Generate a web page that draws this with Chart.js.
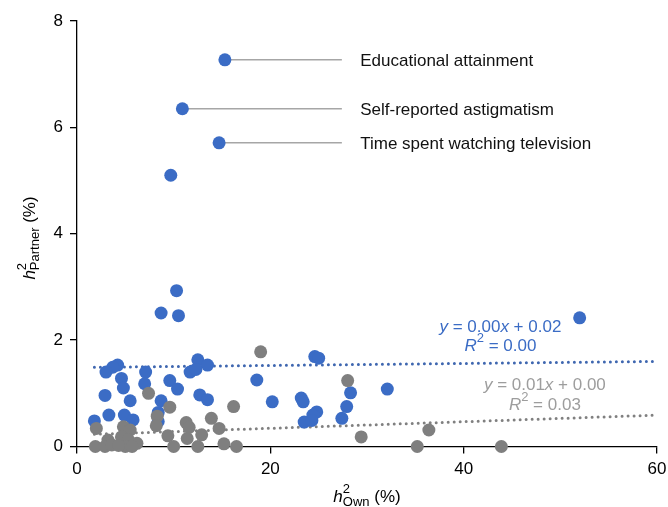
<!DOCTYPE html>
<html lang="en">
<head>
  <meta charset="UTF-8">
  <title>Own vs partner heritability</title>
  <script src="https://cdn.jsdelivr.net/npm/chart.js"></script>
  <style>
    html, body { margin: 0; padding: 0; background: #fff; }
    #wrap { width: 668px; height: 507px; }
  </style>
</head>
<body>
  <div id="wrap"><canvas id="chart" width="668" height="507"></canvas></div>

  <script>
    // h2 own (x, %) and h2 partner (y, %)
    const blueOwn = [15.3, 10.9, 14.7, 9.7, 10.3, 8.7, 10.5, 52.0, 24.6, 25.0, 4.2, 3.7, 3.0, 7.1, 12.5, 13.5,
      11.7, 12.3, 18.6, 4.6, 4.8, 7.0, 9.6, 10.4, 2.9, 5.5, 8.7, 12.7, 13.5, 20.2, 23.2, 23.4, 28.3, 32.1,
      24.8, 24.4, 23.5, 24.3, 27.9, 27.4, 3.3, 4.9, 5.8, 1.8, 8.4, 8.4];
    const bluePartner = [7.27, 6.35, 5.71, 5.10, 2.93, 2.51, 2.46, 2.42, 1.69, 1.66, 1.53, 1.49, 1.40, 1.40, 1.63, 1.53,
      1.40, 1.45, 1.25, 1.28, 1.10, 1.18, 1.24, 1.08, 0.96, 0.86, 0.86, 0.97, 0.88, 0.84, 0.91, 0.84, 1.01, 1.08,
      0.65, 0.59, 0.46, 0.49, 0.75, 0.53, 0.59, 0.59, 0.50, 0.48, 0.64, 0.47];

    const grayOwn = [19.0, 28.0, 7.4, 9.6, 16.2, 8.3, 8.2, 2.0, 4.8, 5.5, 11.3, 11.6, 13.9, 14.7, 9.4, 4.6, 5.3,
      3.2, 11.4, 12.9, 6.2, 15.2, 16.5, 10.0, 12.5, 1.9, 2.9, 3.6, 5.0, 5.7, 29.4, 36.4, 35.2, 43.9, 4.3];
    const grayPartner = [1.78, 1.24, 1.00, 0.74, 0.75, 0.57, 0.39, 0.34, 0.37, 0.31, 0.45, 0.36, 0.53, 0.34, 0.20, 0.18, 0.13,
      0.12, 0.15, 0.22, 0.06, 0.05, 0.00, 0.00, 0.00, 0.00, 0.00, 0.03, 0.00, 0.00, 0.18, 0.31, 0.00, 0.00, 0.02];

    // fitted trend lines (end points)
    const trendX = [1.8, 60];
    const blueTrendY = [1.49, 1.60];
    const grayTrendY = [0.23, 0.59];

    // labelled traits: index into the blue series
    const labelNames = ['Educational attainment', 'Self-reported astigmatism', 'Time spent watching television'];
    const labelIndex = [0, 1, 2];
    const labelLineEnd = 27.4;
    const labelTextX = 29.3;

    const xTicks = [0, 20, 40, 60];
    const yTicks = [0, 2, 4, 6, 8];

    const BLUE = '#3b6cc5';
    const GRAY = '#7f7f7f';
    const FAM = '"Liberation Sans", Arial, Helvetica, sans-serif';
    const BASE = '17px ' + FAM;
    const ITAL = 'italic 17px ' + FAM;
    const SMALL = '13px ' + FAM;

    const toPoints = (xs, ys) => xs.map((x, i) => ({ x: x, y: ys[i] }));

    function richWidth(ctx, parts) {
      let w = 0;
      parts.forEach(p => {
        if (p.text === undefined) {
          ctx.font = SMALL;
          w += Math.max(ctx.measureText(p.sup || '').width, ctx.measureText(p.sub || '').width);
        } else {
          ctx.font = p.font || BASE;
          w += ctx.measureText(p.text).width;
        }
      });
      return w;
    }

    // centred at x, y is the baseline
    function drawRich(ctx, parts, x, y, color) {
      let cx = x - richWidth(ctx, parts) / 2;
      ctx.fillStyle = color;
      ctx.textAlign = 'left';
      ctx.textBaseline = 'alphabetic';
      parts.forEach(p => {
        if (p.text === undefined) {
          ctx.font = SMALL;
          if (p.sup) ctx.fillText(p.sup, cx, y - 9);
          if (p.sub) ctx.fillText(p.sub, cx, y + 4);
          cx += Math.max(ctx.measureText(p.sup || '').width, ctx.measureText(p.sub || '').width);
        } else {
          ctx.font = p.font || BASE;
          ctx.fillText(p.text, cx, y);
          cx += ctx.measureText(p.text).width;
        }
      });
    }

    const textPlugin = {
      id: 'texts',
      afterDraw(chart) {
        const ctx = chart.ctx;
        const xs = chart.scales.x, ys = chart.scales.y;
        const area = chart.chartArea;
        ctx.save();

        // axis titles
        drawRich(ctx, [{ text: 'h', font: ITAL }, { sup: '2', sub: 'Own' }, { text: ' (%)' }],
          (area.left + area.right) / 2, 502, '#000');
        ctx.save();
        ctx.translate(35, 238);
        ctx.rotate(-Math.PI / 2);
        drawRich(ctx, [{ text: 'h', font: ITAL }, { sup: '2', sub: 'Partner' }, { text: ' (%)' }], 0, 0, '#000');
        ctx.restore();

        // trait labels
        ctx.font = BASE;
        ctx.fillStyle = '#111';
        ctx.textAlign = 'left';
        ctx.textBaseline = 'alphabetic';
        labelIndex.forEach((k, i) => {
          ctx.fillText(labelNames[i], xs.getPixelForValue(labelTextX), ys.getPixelForValue(bluePartner[k]) + 6);
        });

        // regression equations
        drawRich(ctx, [{ text: 'y', font: ITAL }, { text: ' = 0.00' }, { text: 'x', font: ITAL }, { text: ' + 0.02' }],
          xs.getPixelForValue(43.8), ys.getPixelForValue(2.16), BLUE);
        drawRich(ctx, [{ text: 'R', font: ITAL }, { sup: '2' }, { text: ' = 0.00' }],
          xs.getPixelForValue(43.8), ys.getPixelForValue(1.80), BLUE);
        drawRich(ctx, [{ text: 'y', font: ITAL }, { text: ' = 0.01' }, { text: 'x', font: ITAL }, { text: ' + 0.00' }],
          xs.getPixelForValue(48.4), ys.getPixelForValue(1.06), '#9d9d9d');
        drawRich(ctx, [{ text: 'R', font: ITAL }, { sup: '2' }, { text: ' = 0.03' }],
          xs.getPixelForValue(48.4), ys.getPixelForValue(0.69), '#9d9d9d');

        ctx.restore();
      }
    };

    const trendStyle = {
      type: 'line', showLine: true, pointRadius: 0, borderWidth: 3,
      borderDash: [0, 6], borderCapStyle: 'round', fill: false, clip: false
    };

    const labelLines = labelIndex.map(k => ({
      type: 'line',
      data: [{ x: blueOwn[k], y: bluePartner[k] }, { x: labelLineEnd, y: bluePartner[k] }],
      borderColor: '#a6a6a6', borderWidth: 1.5, pointRadius: 0, order: 3, clip: false
    }));

    const axisStyle = {
      type: 'linear',
      grid: { display: true, drawOnChartArea: false, drawTicks: true, tickLength: 7, color: '#000', lineWidth: 1.3 },
      border: { display: true, color: '#000', width: 1.3 }
    };

    new Chart(document.getElementById('chart'), {
      type: 'scatter',
      data: {
        datasets: [
          { data: toPoints(grayOwn, grayPartner), backgroundColor: GRAY, borderWidth: 0, pointRadius: 6.5, order: 0, clip: false },
          { data: toPoints(blueOwn, bluePartner), backgroundColor: BLUE, borderWidth: 0, pointRadius: 6.5, order: 1, clip: false },
          Object.assign({ data: toPoints(trendX, blueTrendY), borderColor: '#3f67b0', order: 2 }, trendStyle),
          Object.assign({ data: toPoints(trendX, grayTrendY), borderColor: '#808080', order: 2 }, trendStyle),
          ...labelLines
        ]
      },
      options: {
        responsive: false,
        animation: false,
        events: [],
        layout: { padding: { left: 0, top: 21, right: 11, bottom: 0 } },
        plugins: { legend: { display: false }, tooltip: { enabled: false } },
        scales: {
          x: Object.assign({}, axisStyle, {
            min: 0, max: 60,
            afterBuildTicks: s => { s.ticks = xTicks.map(v => ({ value: v })); },
            afterFit: s => { s.height = 60.5; s.paddingLeft = 0; s.paddingRight = 0; },
            ticks: { color: '#000', font: { family: FAM, size: 17 }, padding: 6, maxRotation: 0 }
          }),
          y: Object.assign({}, axisStyle, {
            min: 0, max: 8,
            afterBuildTicks: s => { s.ticks = yTicks.map(v => ({ value: v })); },
            afterFit: s => { s.width = 77; },
            ticks: { color: '#000', font: { family: FAM, size: 17 }, padding: 7 }
          })
        }
      },
      plugins: [textPlugin]
    });
  </script>
</body>
</html>
